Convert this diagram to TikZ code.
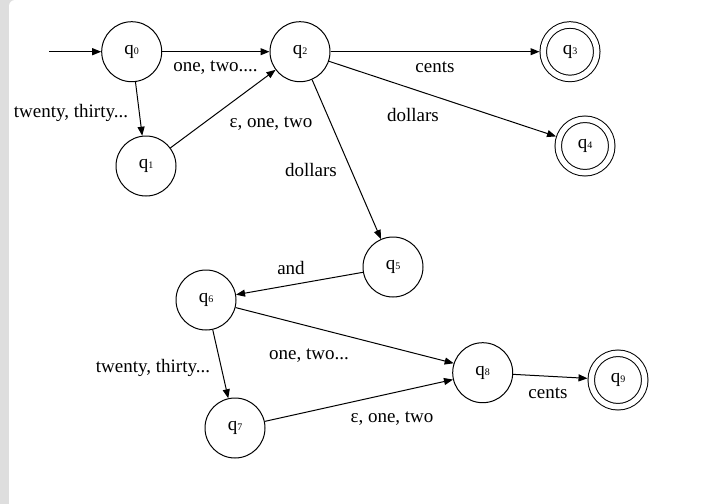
\documentclass[tikz,border=0pt]{standalone}
\usepackage{fontspec}
\setmainfont{Liberation Serif}
\usetikzlibrary{arrows.meta,positioning}
\definecolor{framegray}{RGB}{222,222,222}
\newcommand{\qs}[1]{q{\fontsize{10}{10}\selectfont #1}}

\begin{document}
\begin{tikzpicture}[x=1pt, y=-1pt, line width=1pt,
    state/.style={draw, circle, minimum size=60pt, inner sep=0pt},
    final/.style={state, double, double distance=5.5pt, minimum size=53.5pt, outer sep=3.75pt},
    lbl/.style={inner sep=0pt},
    >={Triangle[length=9pt,width=7pt]},
    font=\fontsize{19}{22}\selectfont]
    \useasboundingbox (0,0) rectangle (724,504);
    \fill[framegray] (0,0) rectangle (20,504);
    \fill[white, rounded corners=6pt] (9,0) rectangle (760,540);
    % states
    \node[state] (q0) at (131.7,51.7) {\qs{0}};
    \node[state] (q1) at (146,166) {\qs{1}};
    \node[state] (q2) at (300,51.7) {\qs{2}};
    \node[final] (q3) at (570,51.7) {\qs{3}};
    \node[final] (q4) at (585,146) {\qs{4}};
    \node[state] (q5) at (393,267) {\qs{5}};
    \node[state] (q6) at (206,300) {\qs{6}};
    \node[state] (q7) at (235,428) {\qs{7}};
    \node[state] (q8) at (482.7,372.7) {\qs{8}};
    \node[final] (q9) at (618,380) {\qs{9}};
    \coordinate (start) at (49,51.7);
    % transitions
    \draw[->] (start) -- (q0);
    \draw[->] (q0) -- (q2);
    \draw[->] (q0) -- (q1);
    \draw[->] (q1) -- (q2);
    \draw[->] (q2) -- (q3);
    \draw[->] (q2) -- (q4);
    \draw[->] (q2) -- (q5);
    \draw[->] (q5) -- (q6);
    \draw[->] (q6) -- (q7);
    \draw[->] (q6) -- (q8.162);
    \draw[->] (q7) -- (q8.193);
    \draw[->] (q8) -- (q9);
    % labels
    \node[lbl] (l02) at (215.5,68) {one, two....};
    \node[lbl] (l01) at (71,113) {twenty, thirty...};
    \node[lbl] (l12) at (271,124) {ε, one, two};
    \node[lbl] (l25) at (311,170) {dollars};
    \node[lbl] (l23) at (435,67) {cents};
    \node[lbl] (l24) at (413,115) {dollars};
    \node[lbl] (l56) at (291,268) {and};
    \node[lbl] (l68) at (309,356) {one, two...};
    \node[lbl] (l67) at (153,368) {twenty, thirty...};
    \node[lbl] (l78) at (392,419) {ε, one, two};
    \node[lbl] (l89) at (548,393) {cents};
\end{tikzpicture}
\end{document}
